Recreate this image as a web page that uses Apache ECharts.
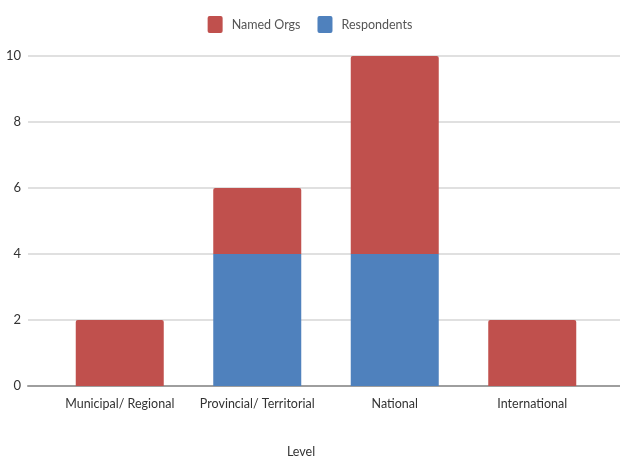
<!DOCTYPE html>
<html><head><meta charset="utf-8">
<script src="https://cdn.jsdelivr.net/npm/echarts@6/dist/echarts.min.js"></script>
<style>html,body{margin:0;padding:0;background:#fff}#c{width:620px;height:460px}</style>
</head><body><div id="c"></div>
<script>
const categories = ['Municipal/ Regional', 'Provincial/ Territorial', 'National', 'International'];
const respondents = [0, 4, 4, 0];
const namedOrgs = [2, 2, 6, 2];
const yTicks = {min: 0, max: 10, interval: 2};
const FONT = 'Lato, "Open Sans", sans-serif';

const chart = echarts.init(document.getElementById('c'));
chart.setOption({
  animation: false,
  textStyle: {fontFamily: FONT},
  legend: {
    data: ['Named Orgs', 'Respondents'],
    top: 11, left: 'center',
    itemWidth: 15, itemHeight: 17, itemGap: 17, itemStyle: {borderWidth: 0},
    textStyle: {color: '#555', fontSize: 12.5, fontFamily: FONT, padding: [0, 0, 0, 4]},
    icon: 'path://M2,0 H13 Q15,0 15,2 V15 Q15,17 13,17 H2 Q0,17 0,15 V2 Q0,0 2,0 Z'
  },
  title: {
    text: 'Level', left: 296, top: 440, textAlign: 'center',
    textStyle: {color: '#333', fontSize: 12.5, fontWeight: 'normal', fontFamily: FONT}
  },
  grid: [
    {left: 28, right: 0, top: 56, bottom: 74},
    {left: 51, right: 19, top: 56, bottom: 74}
  ],
  xAxis: [
    {gridIndex: 0, type: 'category', data: categories, axisLabel: {show: false}, axisTick: {show: false},
     axisLine: {show: true, lineStyle: {color: '#9e9e9e', width: 2}}},
    {gridIndex: 1, type: 'category', data: categories, axisTick: {show: false}, axisLine: {show: false},
     axisLabel: {color: '#333', fontSize: 12.5, margin: 11, fontFamily: FONT, interval: 0}}
  ],
  yAxis: [
    {gridIndex: 0, type: 'value', min: yTicks.min, max: yTicks.max, interval: yTicks.interval,
     axisLabel: {color: '#333', fontSize: 13, margin: 7, fontFamily: FONT},
     axisLine: {show: false}, axisTick: {show: false},
     splitLine: {lineStyle: {color: '#e0e0e0', width: 2}}},
    {gridIndex: 1, type: 'value', min: yTicks.min, max: yTicks.max, interval: yTicks.interval, show: false}
  ],
  series: [
    {name: 'Respondents', type: 'bar', xAxisIndex: 1, yAxisIndex: 1, stack: 's', data: respondents,
     barWidth: 88, itemStyle: {color: '#4f81bd'}},
    {name: 'Named Orgs', type: 'bar', xAxisIndex: 1, yAxisIndex: 1, stack: 's', data: namedOrgs,
     barWidth: 88, itemStyle: {color: '#c0504d', borderRadius: [2, 2, 0, 0]}}
  ]
});
</script></body></html>
